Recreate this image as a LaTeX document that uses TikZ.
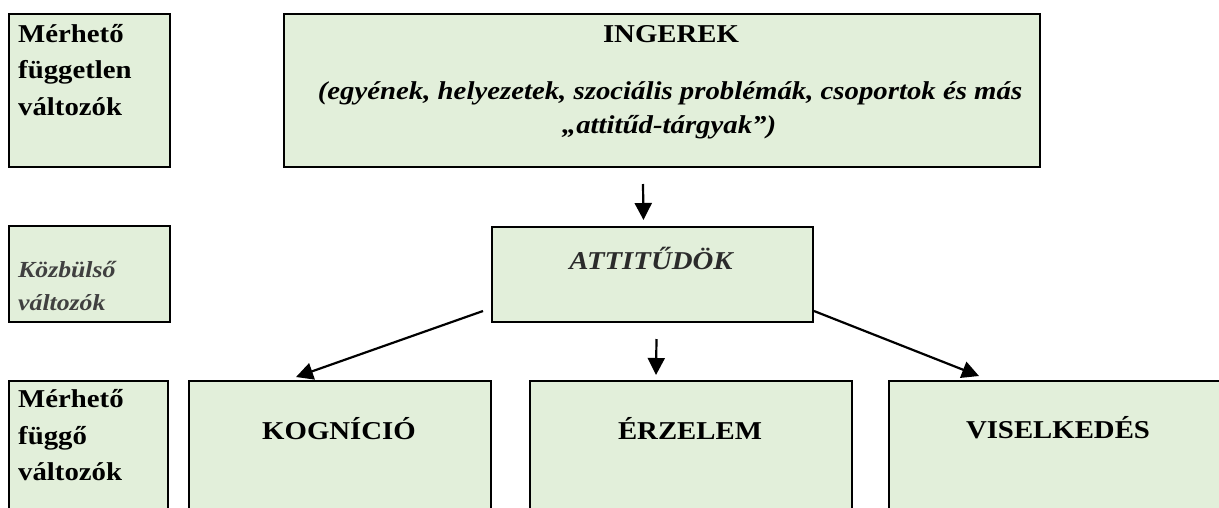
\documentclass[tikz,border=0pt]{standalone}
\usepackage{fontspec}
\setmainfont{Liberation Serif}[FakeStretch=1.12]
\usetikzlibrary{arrows.meta,calc}
\definecolor{boxfill}{HTML}{E2EFDA}
\definecolor{midgray}{HTML}{404040}
\definecolor{attgray}{HTML}{2B2B2B}
\tikzset{
  box/.style={draw=black, line width=2pt, fill=boxfill, rectangle, inner sep=0pt, anchor=north west},
  txt/.style={inner sep=0pt, font=\fontsize{25.7}{30}\selectfont\bfseries},
  itxt/.style={inner sep=0pt, font=\fontsize{25.7}{30}\selectfont\bfseries\itshape},
  arr/.style={line width=2.2pt, -{Triangle[length=17pt,width=17pt]}},
}
\begin{document}
\begin{tikzpicture}[x=1pt,y=-1pt]
\clip (0,0) rectangle (1219,507);
\fill[white] (0,0) rectangle (1219,507);
% boxes
\node[box, minimum width=161pt, minimum height=153pt] (lt) at (8,13) {};
\node[box, minimum width=756pt, minimum height=153pt] (ing) at (283,13) {};
\node[box, minimum width=161pt, minimum height=96pt] (lm) at (8,225) {};
\node[box, minimum width=321pt, minimum height=95pt] (att) at (491,226) {};
\node[box, minimum width=159pt, minimum height=140pt] (lb) at (8,380) {};
\node[box, minimum width=302pt, minimum height=140pt] (kog) at (188,380) {};
\node[box, minimum width=322pt, minimum height=140pt] (erz) at (529,380) {};
\node[box, minimum width=340pt, minimum height=140pt] (vis) at (888,380) {};
% texts
\node[txt, anchor=base west] (lt1) at (18,42) {Mérhető};
\node[txt, anchor=base west] (lt2) at (18,78) {független};
\node[txt, anchor=base west] (lt3) at (18,115) {változók};
\node[txt, anchor=base] (ing1) at (671,42) {INGEREK};
\node[itxt, anchor=base] (ing2) at (670,99) {(egyének, helyezetek, szociális problémák, csoportok és más};
\node[itxt, anchor=base] (ing3) at (669,133) {„attitűd-tárgyak”)};
\node[itxt, anchor=base west, text=midgray, font=\fontsize{23}{27}\selectfont\bfseries\itshape] (lm1) at (18,277) {Közbülső};
\node[itxt, anchor=base west, text=midgray, font=\fontsize{23}{27}\selectfont\bfseries\itshape] (lm2) at (18,310) {változók};
\node[itxt, anchor=base, text=attgray] (att1) at (651,269) {ATTITŰDÖK};
\node[txt, anchor=base west] (lb1) at (18,407) {Mérhető};
\node[txt, anchor=base west] (lb2) at (18,444) {függő};
\node[txt, anchor=base west] (lb3) at (18,480) {változók};
\node[txt, anchor=base] (kog1) at (339,439) {KOGNÍCIÓ};
\node[txt, anchor=base] (erz1) at (690,439) {ÉRZELEM};
\node[txt, anchor=base] (vis1) at (1058,438) {VISELKEDÉS};
% arrows
\draw[arr] ($(ing.south)+(-19,16)$) -- ($(att.north)+(-9,-6)$);
\draw[arr] ($(att.south)+(4,16)$) -- ($(erz.north)+(-35,-5)$);
\draw[arr] ($(att.south west)+(-8,-12)$) -- ($(kog.north west)+(108,-3)$);
\draw[arr] ($(att.south east)+(0,-12)$) -- ($(vis.north west)+(91,-4)$);
\end{tikzpicture}
\end{document}
